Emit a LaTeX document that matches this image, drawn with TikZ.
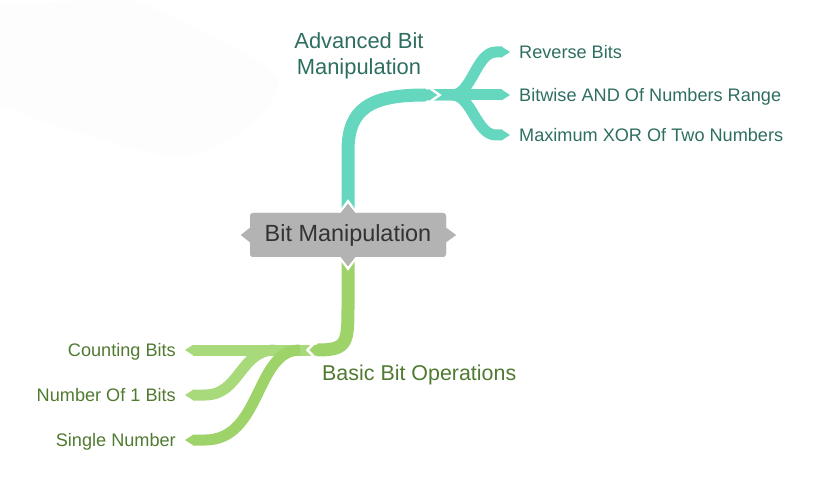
\documentclass[tikz,border=0pt]{standalone}
\usepackage{fontspec}
\setmainfont{Liberation Sans}
\definecolor{teal1}{HTML}{66D7BF}
\definecolor{green1}{HTML}{9ED36A}
\definecolor{green2}{HTML}{A8D97A}
\definecolor{tealtxt}{HTML}{2E6E60}
\definecolor{greentxt}{HTML}{4F7A30}
\definecolor{rootfill}{HTML}{B3B3B3}
\definecolor{roottxt}{HTML}{333333}
\begin{document}
\begin{tikzpicture}[x=1bp,y=-1bp,
  rootbox/.style={fill=rootfill,text=roottxt,rounded corners=3bp,minimum width=196bp,minimum height=44bp,inner sep=0pt,font=\fontsize{23.5}{28}\selectfont},
  tstem/.style={draw=teal1,line width=13bp},
  tsub/.style={draw=teal1,line width=11bp},
  gstem/.style={draw=green1,line width=13bp},
  gsubA/.style={draw=green2,line width=11bp},
  gsubB/.style={draw=green1,line width=11bp},
  gap/.style={draw=white,line width=2.5bp},
  tleaf/.style={text=tealtxt,inner sep=0pt,text height=13bp,text depth=0pt,font=\fontsize{18.2}{22}\selectfont},
  gleaf/.style={text=greentxt,inner sep=0pt,text height=13bp,text depth=0pt,font=\fontsize{18.2}{22}\selectfont},
  tmain/.style={text=tealtxt,inner sep=0pt,align=center,font=\fontsize{22}{26}\selectfont},
  gmain/.style={text=greentxt,inner sep=0pt,font=\fontsize{21.5}{26}\selectfont}]
\useasboundingbox (0,0) rectangle (820,497);
% faint background blob
\fill[black!0.9] (0,6) .. controls (40,2) and (90,0) .. (135,0)
  .. controls (180,20) and (250,50) .. (280,78)
  .. controls (275,100) and (262,115) .. (250,125)
  .. controls (225,145) and (195,158) .. (170,157)
  .. controls (135,150) and (60,130) .. (0,105) -- cycle;

% nodes
\node[rootbox] (root) at (348,235) {Bit Manipulation};
\node[tmain] (adv) at (359,56) {Advanced Bit\\Manipulation};
\node[gmain,anchor=west] (basic) at (322,375) {Basic Bit Operations};
\node[tleaf,anchor=west] (r1) at (519,52) {Reverse Bits};
\node[tleaf,anchor=west] (r2) at (519,95) {Bitwise AND Of Numbers Range};
\node[tleaf,anchor=west] (r3) at (519,135) {Maximum XOR Of Two Numbers};
\node[gleaf,anchor=east] (g1) at (176,350) {Counting Bits};
\node[gleaf,anchor=east] (g2) at (176,395) {Number Of 1 Bits};
\node[gleaf,anchor=east] (g3) at (176,440) {Single Number};

\coordinate (advEnd) at (425,95);
\coordinate (advJ) at (428,95);
\coordinate (basEnd) at (318,350);
\coordinate (basJ) at (321,350);

% ---------- teal branch ----------
\draw[tsub] (advJ) -- (452,95) .. controls (472,95) and (476,52) .. (496,52) -- ([xshift=-17bp]r1.west);
\draw[tsub] (advJ) -- ([xshift=-17bp]r2.west);
\draw[tsub] (advJ) -- (452,95) .. controls (472,95) and (476,135) .. (496,135) -- ([xshift=-17bp]r3.west);
\foreach \n in {r1,r2,r3}{
  \fill[teal1] ([xshift=-17.5bp,yshift=-5.5bp]\n.west) -- ([xshift=-9bp]\n.west) -- ([xshift=-17.5bp,yshift=5.5bp]\n.west) -- cycle;
}
\draw[gap] ([shift={(2bp,-9bp)}]advEnd) -- ([xshift=14.5bp]advEnd) -- ([shift={(2bp,9bp)}]advEnd);
\draw[tstem] ([yshift=-8bp]root.north) -- ++(0,-70) .. controls +(0,-42) and +(-55,0) .. (advEnd);
\fill[teal1] ([yshift=6.5bp]advEnd) -- ([xshift=12bp]advEnd) -- ([yshift=-6.5bp]advEnd) -- cycle;

% ---------- green branch ----------
\draw[gsubA] (basJ) -- ([xshift=17bp]g1.east);
\draw[gsubA] (275,350) .. controls (240,350) and (240,395) .. (205,395) -- ([xshift=17bp]g2.east);
\draw[gsubB] (300,350) .. controls (255,350) and (262,440) .. (205,440) -- ([xshift=17bp]g3.east);
\fill[green2] ([xshift=17.5bp,yshift=-5.5bp]g1.east) -- ([xshift=9bp]g1.east) -- ([xshift=17.5bp,yshift=5.5bp]g1.east) -- cycle;
\fill[green2] ([xshift=17.5bp,yshift=-5.5bp]g2.east) -- ([xshift=9bp]g2.east) -- ([xshift=17.5bp,yshift=5.5bp]g2.east) -- cycle;
\fill[green1] ([xshift=17.5bp,yshift=-5.5bp]g3.east) -- ([xshift=9bp]g3.east) -- ([xshift=17.5bp,yshift=5.5bp]g3.east) -- cycle;
\draw[gap] ([shift={(-2bp,-9bp)}]basEnd) -- ([xshift=-10.5bp]basEnd) -- ([shift={(-2bp,9bp)}]basEnd);
\draw[gstem] ([yshift=8bp]root.south) -- ++(0,55) .. controls +(0,38) and +(30,0) .. (basEnd);
\fill[green1] ([yshift=6.5bp]basEnd) -- ([xshift=-8bp]basEnd) -- ([yshift=-6.5bp]basEnd) -- cycle;

% ---------- root pointers (yshift is in canvas units: + is up) ----------
\draw[gap] ([xshift=-9bp,yshift=-1bp]root.north) -- ([yshift=11.5bp]root.north) -- ([xshift=9bp,yshift=-1bp]root.north);
\draw[gap] ([xshift=-9bp,yshift=1bp]root.south) -- ([yshift=-11.5bp]root.south) -- ([xshift=9bp,yshift=1bp]root.south);
\fill[rootfill] ([xshift=-8bp,yshift=-1bp]root.north) -- ([yshift=9bp]root.north) -- ([xshift=8bp,yshift=-1bp]root.north) -- cycle;
\fill[rootfill] ([xshift=-8bp,yshift=1bp]root.south) -- ([yshift=-9bp]root.south) -- ([xshift=8bp,yshift=1bp]root.south) -- cycle;
\fill[rootfill] ([xshift=1bp,yshift=-8bp]root.west) -- ([xshift=-9bp]root.west) -- ([xshift=1bp,yshift=8bp]root.west) -- cycle;
\fill[rootfill] ([xshift=-1bp,yshift=-8bp]root.east) -- ([xshift=10bp]root.east) -- ([xshift=-1bp,yshift=8bp]root.east) -- cycle;
\node[rootbox] at (root.center) {Bit Manipulation};
\end{tikzpicture}
\end{document}
